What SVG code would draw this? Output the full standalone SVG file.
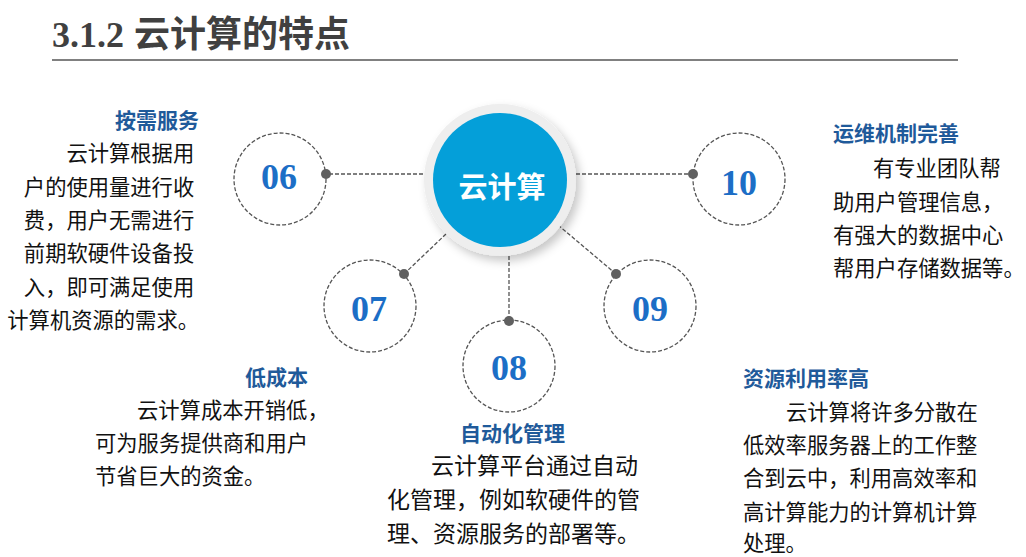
<svg xmlns="http://www.w3.org/2000/svg" width="1026" height="557" viewBox="0 0 1026 557">
<style>
.cjk{font-family:"Noto Sans CJK SC","Noto Sans",sans-serif}
.head{font-family:"Noto Sans CJK SC",sans-serif;font-size:21px;font-weight:bold;fill:#1F5A9A}
.body{font-family:"Noto Sans CJK SC",sans-serif;font-size:21.3px;fill:#111}
.num{font-family:"Liberation Serif",serif;font-size:36px;font-weight:bold;fill:#1C6EC6;text-anchor:middle}
.ring{fill:#fff;stroke:#555;stroke-width:1.3;stroke-dasharray:4 2}
.conn{stroke:#555;stroke-width:1.3;stroke-dasharray:4 2;fill:none}
.dot{fill:#606060}
</style>
<defs>
<filter id="sh" x="-30%" y="-30%" width="160%" height="160%">
<feDropShadow dx="4" dy="5" stdDeviation="5" flood-color="#000" flood-opacity="0.22"/>
</filter>
</defs>
<rect width="1026" height="557" fill="#fff"/>
<g id="title">
<text x="52" y="47" font-size="36" font-weight="bold" fill="#404040"><tspan font-family="Liberation Serif,serif">3.1.2</tspan><tspan x="134" font-family="Noto Sans CJK SC,sans-serif">云计算的特点</tspan></text>
<line x1="52" y1="60" x2="958" y2="60" stroke="#808080" stroke-width="2.2"/>
</g>
<g id="connectors">
<line class="conn" x1="423" y1="174" x2="326" y2="174"/>
<line class="conn" x1="576" y1="174" x2="693" y2="174"/>
<line class="conn" x1="446" y1="234" x2="404" y2="274"/>
<line class="conn" x1="509" y1="256" x2="509" y2="321"/>
<line class="conn" x1="558" y1="225" x2="616" y2="274"/>
</g>
<g id="center">
<circle cx="500" cy="180" r="76" fill="#EEEEEE" filter="url(#sh)"/>
<circle cx="500" cy="180" r="67" fill="#049FD9"/>
<text x="502" y="198" class="cjk" font-size="29" font-weight="bold" fill="#fff" text-anchor="middle">云计算</text>
</g>
<g id="node06">
<circle class="ring" cx="280" cy="179" r="46"/>
<circle class="dot" cx="326" cy="174" r="5"/>
<text class="num" x="279" y="189">06</text>
</g>
<g id="node07">
<circle class="ring" cx="370" cy="306" r="46"/>
<circle class="dot" cx="404" cy="274" r="5"/>
<text class="num" x="369" y="321">07</text>
</g>
<g id="node08">
<circle class="ring" cx="509" cy="366" r="46"/>
<circle class="dot" cx="509" cy="321" r="5"/>
<text class="num" x="509" y="380">08</text>
</g>
<g id="node09">
<circle class="ring" cx="650" cy="306" r="46"/>
<circle class="dot" cx="616" cy="274" r="5"/>
<text class="num" x="650" y="321">09</text>
</g>
<g id="node10">
<circle class="ring" cx="739" cy="179" r="46"/>
<circle class="dot" cx="693" cy="174" r="5"/>
<text class="num" x="739" y="195">10</text>
</g>
<g id="text06">
<text class="head" x="199" y="128" text-anchor="end">按需服务</text>
<text class="body" text-anchor="end">
<tspan x="199" y="161">云计算根据用</tspan>
<tspan x="199" y="195">户的使用量进行收</tspan>
<tspan x="199" y="228">费，用户无需进行</tspan>
<tspan x="199" y="261">前期软硬件设备投</tspan>
<tspan x="199" y="295">入，即可满足使用</tspan>
<tspan x="199" y="328">计算机资源的需求。</tspan>
</text>
</g>
<g id="text10">
<text class="head" x="833" y="141">运维机制完善</text>
<text class="body">
<tspan x="873" y="176">有专业团队帮</tspan>
<tspan x="833" y="210">助用户管理信息，</tspan>
<tspan x="833" y="243">有强大的数据中心</tspan>
<tspan x="833" y="276">帮用户存储数据等。</tspan>
</text>
</g>
<g id="text07">
<text class="head" x="308" y="385" text-anchor="end">低成本</text>
<text class="body">
<tspan x="137" y="418">云计算成本开销低，</tspan>
<tspan x="95" y="451">可为服务提供商和用户</tspan>
<tspan x="95" y="484">节省巨大的资金。</tspan>
</text>
</g>
<g id="text08">
<text class="head" x="460" y="441">自动化管理</text>
<text class="body" style="font-size:23px">
<tspan x="431" y="474">云计算平台通过自动</tspan>
<tspan x="387" y="508">化管理，例如软硬件的管</tspan>
<tspan x="387" y="542">理、资源服务的部署等。</tspan>
</text>
</g>
<g id="text09">
<text class="head" x="743" y="386">资源利用率高</text>
<text class="body">
<tspan x="786" y="420">云计算将许多分散在</tspan>
<tspan x="743" y="453">低效率服务器上的工作整</tspan>
<tspan x="743" y="486">合到云中，利用高效率和</tspan>
<tspan x="743" y="520">高计算能力的计算机计算</tspan>
<tspan x="743" y="551">处理。</tspan>
</text>
</g>
</svg>
